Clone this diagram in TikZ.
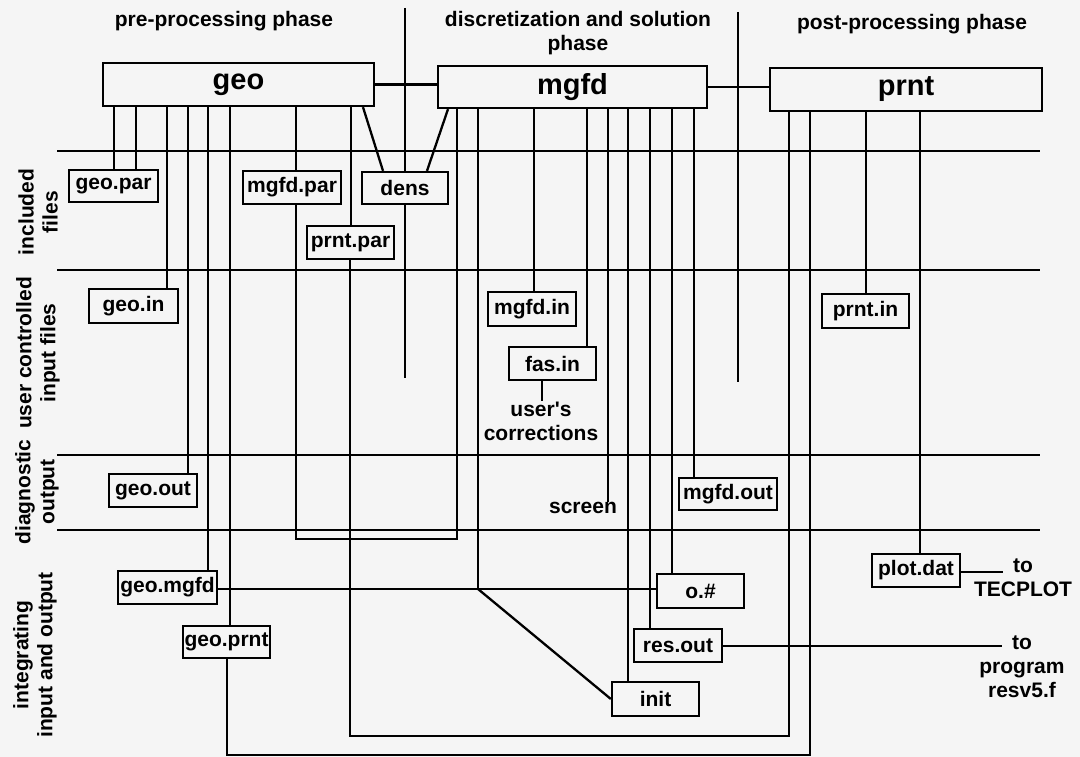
\documentclass[tikz,border=0pt]{standalone}
\usepackage{fontspec}
\setmainfont{Liberation Sans}
\definecolor{bg}{RGB}{245,245,245}
\tikzset{
  lbl/.style={font=\fontsize{21}{24}\selectfont\bfseries, inner sep=0pt, align=center},
  side/.style={lbl, rotate=90},
  box/.style={draw, line width=2.3pt, fill=bg, inner sep=0pt, font=\fontsize{21}{24}\selectfont\bfseries},
  big/.style={box, font=\fontsize{29}{32}\selectfont\bfseries},
  ln/.style={line width=2.3pt},
}
\begin{document}
\begin{tikzpicture}[x=1pt,y=-1pt]
\fill[bg] (0,0) rectangle (1080,757);
\useasboundingbox (0,0) rectangle (1080,757);

% band lines and phase dividers
\foreach \yy in {151,270,455,530} \draw[ln] (57,\yy) -- (1040,\yy);
\draw[ln] (405,8) -- (405,378);
\draw[ln] (738,12) -- (738,382);

% titles
\node[lbl] (t1) at (224,21) {pre-processing phase};
\node[lbl] (t2) at (578,33) {discretization and solution\\phase};
\node[lbl] (t3) at (912,24) {post-processing phase};

% side labels
\node[side] (s1) at (38,212) {included\\files};
\node[side] (s2) at (38,353) {user controlled\\input files};
\node[side] (s3) at (37,492) {diagnostic\\output};
\node[side] (s4) at (35,655) {integrating\\input and output};

% main boxes
\node[big, minimum width=271, minimum height=43] (geo) at (238.5,84.5) {geo};
\node[big, minimum width=269, minimum height=42] (mgfd) at (572.5,87) {mgfd};
\node[big, minimum width=272, minimum height=43] (prnt) at (906,89.5) {prnt};

% file boxes
\node[box, minimum width=89, minimum height=32] (geopar) at (113.5,186) {geo.par};
\node[box, minimum width=98, minimum height=33] (mgfdpar) at (292,187.5) {mgfd.par};
\node[box, minimum width=86, minimum height=32] (dens) at (405,188) {dens};
\node[box, minimum width=87, minimum height=33] (prntpar) at (350.5,242.5) {prnt.par};
\node[box, minimum width=89, minimum height=34] (geoin) at (133.5,306) {geo.in};
\node[box, minimum width=88, minimum height=34] (mgfdin) at (532,309) {mgfd.in};
\node[box, minimum width=87, minimum height=33] (fasin) at (552.5,363.5) {fas.in};
\node[box, minimum width=87, minimum height=34] (prntin) at (865.5,311) {prnt.in};
\node[box, minimum width=88, minimum height=33] (geoout) at (153,490.5) {geo.out};
\node[box, minimum width=98, minimum height=32] (mgfdout) at (728,494) {mgfd.out};
\node[box, minimum width=88, minimum height=33] (plotdat) at (916,570.5) {plot.dat};
\node[box, minimum width=99, minimum height=33] (geomgfd) at (167.5,587.5) {geo.mgfd};
\node[box, minimum width=87, minimum height=32] (geoprnt) at (226.5,642) {geo.prnt};
\node[box, minimum width=87, minimum height=34] (o) at (700.5,591) {o.\#};
\node[box, minimum width=88, minimum height=33] (resout) at (678,645.5) {res.out};
\node[box, minimum width=87, minimum height=34] (init) at (655.5,699) {init};

% free labels
\node[lbl] (users) at (541,421) {user\textquotesingle s\\corrections};
\node[lbl] (screen) at (583,508) {screen};
\node[lbl] (tecplot) at (1023,578) {to\\TECPLOT};
\node[lbl] (resv) at (1022,667) {to\\program\\resv5.f};

% top links
\draw[ln] (geo.east) -- (mgfd.west |- geo.east);
\draw[ln] (mgfd.east) -- (prnt.west |- mgfd.east);

% straight vertical connectors
\foreach \xx/\a/\b in {114/geo/geopar, 136/geo/geopar, 167/geo/geoin, 188/geo/geoout,
  208/geo/geomgfd, 230/geo/geoprnt, 296/geo/mgfdpar, 351/geo/prntpar,
  534/mgfd/mgfdin, 587/mgfd/fasin, 628/mgfd/init, 650/mgfd/resout,
  672/mgfd/o, 694/mgfd/mgfdout, 866/prnt/prntin, 920/prnt/plotdat}
  \draw[ln] (\a.south -| \xx,0) -- (\b.north -| \xx,0);

\draw[ln] (mgfd.south -| 608,0) -- (screen.north -| 608,0);
\draw[ln] (fasin.south -| 542,0) -- (users.north -| 542,0);

% dens diagonals
\draw[ln] (geo.south -| 363,0) -- (dens.north -| 383,0);
\draw[ln] (mgfd.south -| 448,0) -- (dens.north -| 427,0);

% loops
\draw[ln] (mgfdpar.south -| 296,0) |- (457,539) -- (mgfd.south -| 457,0);
\draw[ln] (prntpar.south -| 350,0) |- (789,736) -- (prnt.south -| 789,0);
\draw[ln] (geoprnt.south -| 227,0) |- (810,755) -- (prnt.south -| 810,0);

% geo.mgfd / o.# / init junction
\coordinate (j) at (478,589);
\draw[ln] (mgfd.south -| j) -- (j);
\draw[ln] (geomgfd.east |- j) -- (o.west |- j);
\draw[ln] (j) -- (init.west);

% outgoing
\coordinate (tp) at (1003,572);
\draw[ln] (plotdat.east |- tp) -- (tp);
\coordinate (rp) at (1002,646);
\draw[ln] (resout.east |- rp) -- (rp);
\end{tikzpicture}
\end{document}
